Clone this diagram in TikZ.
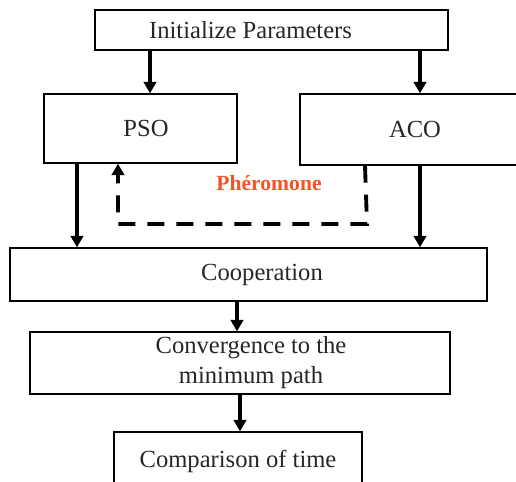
\documentclass[tikz,border=0pt]{standalone}
\usepackage{fontspec}
\setmainfont{Liberation Serif}
\usetikzlibrary{arrows.meta}
\definecolor{phero}{RGB}{240,85,40}
\tikzset{
  box/.style={draw, line width=0.8pt, inner sep=0pt, text=black!85, font=\fontsize{14}{17}\selectfont},
  arr/.style={-{Triangle[length=0.23cm,width=0.25cm]}, line width=2.2pt},
  dasharr/.style={arr, dash pattern=on 0.34cm off 0.24cm}
}
\begin{document}
\begin{tikzpicture}[x=0.02cm,y=-0.02cm]
\useasboundingbox (0,0) rectangle (516,481);
% boxes
\node[box,minimum width=7.06cm,minimum height=0.8cm] (init) at (271.5,30) {Initialize Parameters\hspace*{0.84cm}};
\node[box,minimum width=3.86cm,minimum height=1.38cm] (pso) at (140.5,128.5) {\hspace*{0.22cm}PSO};
\node[box,minimum width=4.4cm,minimum height=1.42cm] (aco) at (410,129.5) {\hspace*{0.2cm}ACO};
\node[box,minimum width=9.54cm,minimum height=1.06cm] (coop) at (248.5,274.5) {\hspace*{0.54cm}Cooperation};
\node[box,minimum width=8.4cm,minimum height=1.24cm,align=center] (conv) at (240,363) {\hspace*{0.44cm}Convergence to the\\\hspace*{0.44cm}minimum path};
\node[box,minimum width=4.96cm,minimum height=1.16cm] (comp) at (238,461) {Comparison of time};
\node[font=\bfseries\fontsize{12.3}{14}\selectfont, text=phero] (pher) at (269,183) {Phéromone};
% arrows
\draw[arr] (150,0 |- init.south) -- (150,0 |- pso.north);
\draw[arr] (420,0 |- init.south) -- (420,0 |- aco.north);
\draw[arr] (77,0 |- pso.south) -- (77,0 |- coop.north);
\draw[arr] (420,0 |- aco.south) -- (420,0 |- coop.north);
\draw[arr] (237,0 |- coop.south) -- (237,0 |- conv.north);
\draw[arr] (240,0 |- conv.south) -- (240,0 |- comp.north);
\draw[dasharr] (365,0 |- aco.south) -- (367,224) -- (118,224) -- (118,0 |- pso.south);
\end{tikzpicture}
\end{document}
